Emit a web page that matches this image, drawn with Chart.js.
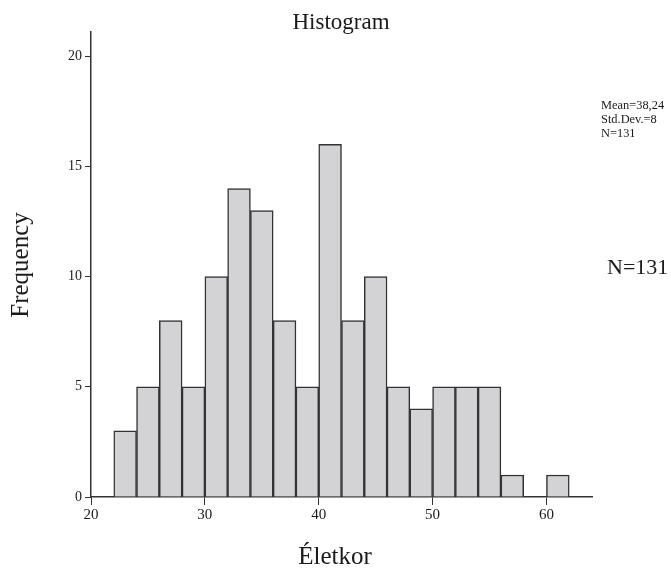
<!DOCTYPE html>
<html>
<head>
<meta charset="utf-8">
<script src="https://cdn.jsdelivr.net/npm/chart.js@4.4.0/dist/chart.umd.min.js"></script>
<style>
  html, body { margin: 0; padding: 0; background: #fff; }
  #wrap { width: 671px; height: 568px; }
</style>
</head>
<body>
<div id="wrap"><canvas id="hist" width="671" height="568"></canvas></div>
<script>
// ADATOK
const binStarts = [22, 24, 26, 28, 30, 32, 34, 36, 38, 40, 42, 44, 46, 48, 50, 52, 54, 56, 58, 60];
const frequencies = [3, 5, 8, 5, 10, 14, 13, 8, 5, 16, 8, 10, 5, 4, 5, 5, 5, 1, 0, 1];
const binWidth = 2;
const xTicks = [20, 30, 40, 50, 60];
const yTicks = [0, 5, 10, 15, 20];
const statLines = ["Mean=38,24", "Std.Dev.=8", "N=131"];

const serif = "'Liberation Serif', 'DejaVu Serif', serif";
const ink = "#333";

// textek
const labelsPlugin = {
  id: "labels",
  afterDraw(chart) {
    const ctx = chart.ctx;
    ctx.save();
    ctx.fillStyle = "#1a1a1a";
    ctx.textBaseline = "alphabetic";

    ctx.textAlign = "center";
    ctx.font = "23px " + serif;
    ctx.fillText("Histogram", 341, 29);

    ctx.font = "25px " + serif;
    ctx.fillText("Életkor", 335, 564);

    ctx.save();
    ctx.translate(28, 265);
    ctx.rotate(-Math.PI / 2);
    ctx.fillText("Frequency", 0, 0);
    ctx.restore();

    ctx.textAlign = "left";
    ctx.font = "12.4px " + serif;
    statLines.forEach((t, i) => ctx.fillText(t, 601, 109 + i * 14));

    ctx.font = "22px " + serif;
    ctx.fillText("N=131", 607, 274);
    ctx.restore();
  }
};

const ctx = document.getElementById("hist").getContext("2d");
new Chart(ctx, {
  type: "bar",
  data: {
    datasets: [{
      data: binStarts.map((s, i) => ({ x: s + binWidth / 2, y: frequencies[i] })),
      backgroundColor: "#d3d3d5",
      borderColor: ink,
      borderWidth: 1.5,
      barPercentage: 1,
      categoryPercentage: 1,
      grouped: false
    }]
  },
  options: {
    responsive: false,
    animation: false,
    layout: { padding: { top: 32, right: 79, left: 0, bottom: 0 } },
    plugins: {
      legend: { display: false },
      tooltip: { enabled: false }
    },
    scales: {
      x: {
        type: "linear",
        min: 20,
        max: 64,
        offset: false,
        afterBuildTicks: s => { s.ticks = xTicks.map(v => ({ value: v })); },
        afterFit: s => { s.height = 71; },
        grid: { offset: false, drawOnChartArea: false, drawTicks: true, tickLength: 8, color: ink },
        border: { display: true, color: ink, width: 1.5 },
        ticks: { font: { family: serif, size: 15 }, color: "#1a1a1a", padding: 1, maxRotation: 0 }
      },
      y: {
        min: 0,
        max: 21.1,
        afterBuildTicks: s => { s.ticks = yTicks.map(v => ({ value: v })); },
        afterFit: s => { s.width = 91; },
        grid: { drawOnChartArea: false, drawTicks: true, tickLength: 6, color: ink },
        border: { display: true, color: ink, width: 1.5 },
        ticks: { font: { family: serif, size: 14 }, color: "#1a1a1a", padding: 3 }
      }
    }
  },
  plugins: [labelsPlugin]
});
</script>
</body>
</html>
